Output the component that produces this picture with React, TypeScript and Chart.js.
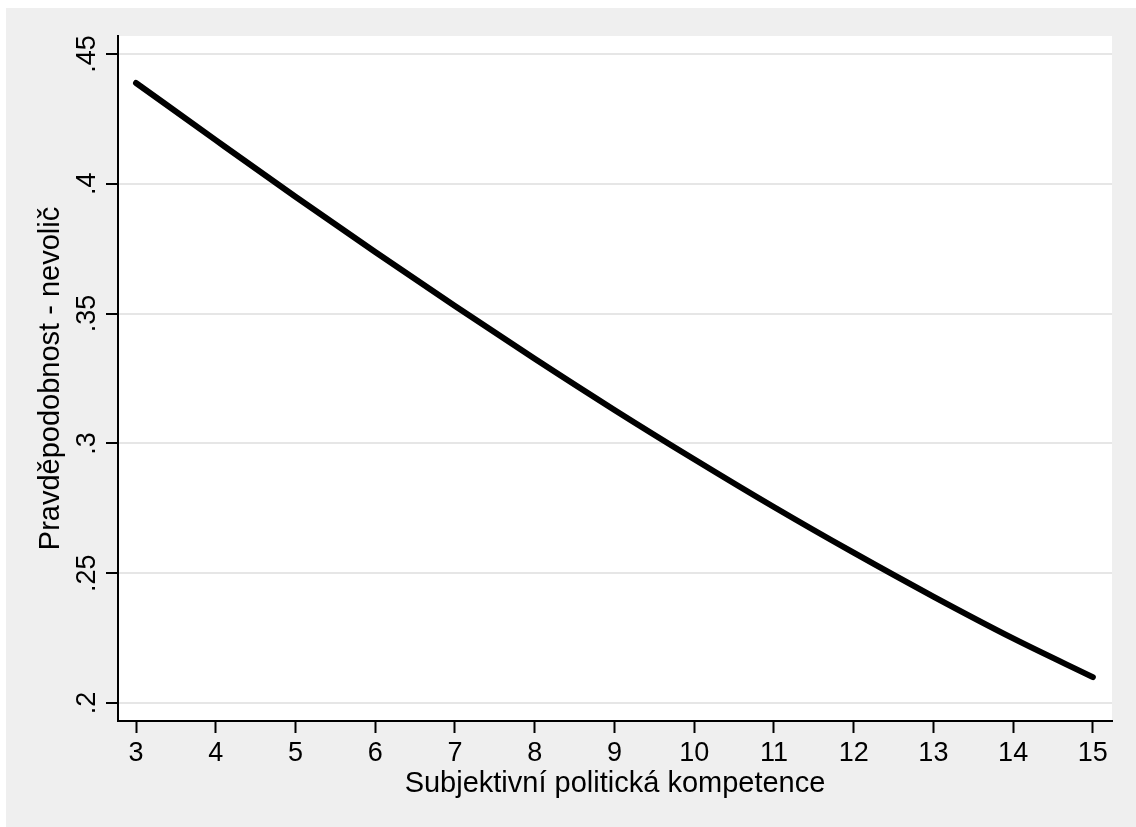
import React, { useEffect, useRef } from "react";
import { Chart, registerables } from "chart.js";

Chart.register(...registerables);

const competence = [3, 4, 5, 6, 7, 8, 9, 10, 11, 12, 13, 14, 15];
const probNonVoter = [0.4388, 0.4168, 0.395, 0.3737, 0.3529, 0.3326, 0.3129, 0.2939, 0.2755, 0.2579, 0.241, 0.2249, 0.21];
const xTickValues = [3, 4, 5, 6, 7, 8, 9, 10, 11, 12, 13, 14, 15];
const yTickValues = [0.2, 0.25, 0.3, 0.35, 0.4, 0.45];
const yTickLabels = [".2", ".25", ".3", ".35", ".4", ".45"];
const xTitle = "Subjektivní politická kompetence";
const yTitle = "Pravděpodobnost - nevolič";

const FONT = "'Liberation Sans', Arial, sans-serif";

export default function App() {
  const ref = useRef<HTMLCanvasElement | null>(null);
  useEffect(() => {
    if (!ref.current) return;
    const bgPlugin = {
      id: "stataBg",
      beforeDraw(chart: any) {
        const { ctx, chartArea } = chart;
        ctx.save();
        ctx.fillStyle = "#ffffff";
        ctx.fillRect(0, 0, chart.width, chart.height);
        ctx.fillStyle = "#efefef";
        ctx.fillRect(6, 8, chart.width - 6, chart.height - 8);
        ctx.fillStyle = "#ffffff";
        ctx.fillRect(chartArea.left, chartArea.top, chartArea.right - chartArea.left, chartArea.bottom - chartArea.top);
        ctx.restore();
      },
    };
    const yLabelPlugin = {
      id: "yRotLabels",
      afterDraw(chart: any) {
        const scale = chart.scales.y;
        const ctx = chart.ctx;
        ctx.save();
        ctx.fillStyle = "#000";
        ctx.font = `27px ${FONT}`;
        ctx.textAlign = "center";
        ctx.textBaseline = "alphabetic";
        yTickValues.forEach((v, i) => {
          const y = scale.getPixelForValue(v);
          ctx.save();
          ctx.translate(scale.right - 12 - 11, y);
          ctx.rotate(-Math.PI / 2);
          ctx.fillText(yTickLabels[i], 0, 0);
          ctx.restore();
        });
        ctx.restore();
      },
    };
    const chart = new Chart(ref.current, {
      type: "line",
      data: {
        datasets: [
          {
            data: competence.map((x, i) => ({ x, y: probNonVoter[i] })),
            borderColor: "#000",
            borderWidth: 6,
            borderCapStyle: "round",
            borderJoinStyle: "round",
            pointRadius: 0,
            cubicInterpolationMode: "monotone",
            fill: false,
          },
        ],
      },
      options: {
        animation: false,
        responsive: false,
        maintainAspectRatio: false,
        layout: { padding: { left: 0, right: 24, top: 36, bottom: 0 } },
        plugins: { legend: { display: false }, tooltip: { enabled: false } },
        scales: {
          x: {
            type: "linear",
            min: 2.774,
            max: 15.24,
            afterBuildTicks(scale: any) {
              scale.ticks = xTickValues.map((v) => ({ value: v }));
            },
            afterFit(scale: any) {
              scale.height = 106;
            },
            ticks: {
              color: "#000",
              font: { family: FONT, size: 27 },
              padding: 4,
              maxRotation: 0,
              minRotation: 0,
              autoSkip: false,
              callback: (v: any) => String(v),
            },
            grid: {
              drawOnChartArea: false,
              drawTicks: true,
              tickLength: 12,
              tickColor: "#000",
              tickWidth: 2,
            },
            border: { display: true, color: "#000", width: 2 },
            title: {
              display: true,
              text: xTitle,
              color: "#000",
              font: { family: FONT, size: 29 },
              padding: { top: 0, bottom: 26 },
            },
          },
          y: {
            type: "linear",
            min: 0.1931,
            max: 0.4569,
            afterBuildTicks(scale: any) {
              scale.ticks = yTickValues.map((v) => ({ value: v }));
            },
            afterFit(scale: any) {
              scale.width = 118;
            },
            ticks: { display: false },
            grid: {
              color: "#e6e6e6",
              lineWidth: 2,
              drawTicks: true,
              tickLength: 12,
              tickColor: "#000",
              tickWidth: 2,
            },
            border: { display: true, color: "#000", width: 2 },
            title: {
              display: true,
              text: yTitle,
              color: "#000",
              font: { family: FONT, size: 29 },
              padding: { top: 34, bottom: 0 },
            },
          },
        },
      },
      plugins: [bgPlugin, yLabelPlugin],
    });
    return () => chart.destroy();
  }, []);
  return (
    <div style={{ position: "absolute", left: 0, top: 0, width: 1136, height: 827 }}>
      <canvas ref={ref} width={1136} height={827} style={{ display: "block", width: 1136, height: 827 }} />
    </div>
  );
}
